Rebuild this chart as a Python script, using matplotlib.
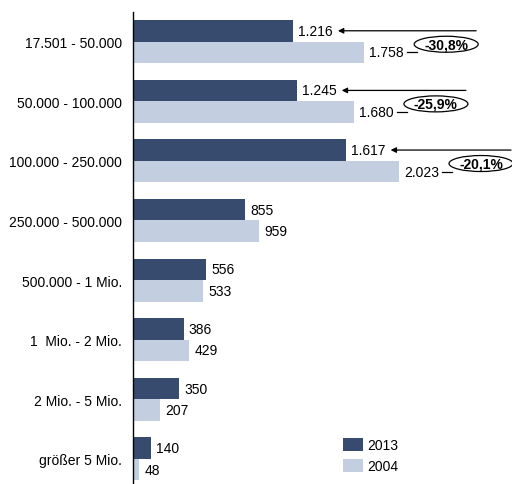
import matplotlib
matplotlib.use("Agg")
import matplotlib.pyplot as plt
from matplotlib.patches import Ellipse
from matplotlib.transforms import ScaledTranslation
import numpy as np

plt.rcParams['font.family'] = ['Liberation Sans', 'DejaVu Sans']

categories = ["17.501 - 50.000", "50.000 - 100.000", "100.000 - 250.000",
              "250.000 - 500.000", "500.000 - 1 Mio.", "1  Mio. - 2 Mio.",
              "2 Mio. - 5 Mio.", "größer 5 Mio."]
v2013 = [1216, 1245, 1617, 855, 556, 386, 350, 140]
v2004 = [1758, 1680, 2023, 959, 533, 429, 207, 48]
changes = ["-30,8%", "-25,9%", "-20,1%"]

def fmt(v):
    return f"{v:,}".replace(",", ".")

dark = "#364b6e"
light = "#c3cee1"

W, H, DPI = 512, 485, 100
fig = plt.figure(figsize=(W / DPI, H / DPI), dpi=DPI)
ax = fig.add_axes([133 / W, 0, 379 / W, (H - 13) / H])

y = np.arange(len(categories))
bh = 0.36
ax.barh(y - bh / 2, v2013, height=bh, color=dark, label="2013")
ax.barh(y + bh / 2, v2004, height=bh, color=light, label="2004")

ax.set_xlim(0, 379 / 0.1315)
ax.set_ylim(7.42, -0.495)
ax.set_yticks(y)
ax.set_yticklabels(categories, fontsize=10)
ax.tick_params(axis='y', length=0, pad=8)
ax.set_xticks([])
for s in ["top", "right", "bottom"]:
    ax.spines[s].set_visible(False)
ax.spines["left"].set_linewidth(1.0)

for i in range(len(categories)):
    ax.annotate(fmt(v2013[i]), (v2013[i], y[i] - bh / 2), xytext=(3.6, 0),
                textcoords="offset points", va="center", ha="left", fontsize=10)
    ax.annotate(fmt(v2004[i]), (v2004[i], y[i] + bh / 2), xytext=(3.6, 0),
                textcoords="offset points", va="center", ha="left", fontsize=10)

def at(xd, yd):
    return fig.dpi_scale_trans + ScaledTranslation(xd, yd, ax.transData)

for i, ch in enumerate(changes):
    base = at(v2004[i], y[i] + bh / 2)   # light bar end, in inches offsets
    ecx, ecy, ew, eh = 82 / DPI, 8 / DPI, 64 / DPI, 16 / DPI
    ax.add_patch(Ellipse((ecx, ecy), ew, eh, transform=base, fill=False,
                         edgecolor="black", lw=0.9, clip_on=False))
    ax.text(ecx, ecy, ch, transform=base, ha="center", va="center",
            fontsize=10, fontweight="bold", clip_on=False)
    ax.plot([43 / DPI, 53 / DPI], [0, 0], transform=base, color="black",
            lw=0.9, clip_on=False)
    tail_disp = base.transform((ecx + ew / 2 - 2 / DPI, 0))
    dark_end = ax.transData.transform((v2013[i], y[i] - bh / 2))
    tip_disp = (dark_end[0] + 45, dark_end[1])
    tail_disp = (tail_disp[0], dark_end[1])
    ax.annotate("", xy=tip_disp, xycoords="figure pixels",
                xytext=tail_disp, textcoords="figure pixels",
                arrowprops=dict(arrowstyle="-|>", lw=0.9, color="black",
                                mutation_scale=8, shrinkA=0, shrinkB=0))

fs_px = 10 * DPI / 72
ax.legend(loc="upper left", bbox_to_anchor=(343 / W, 1 - 439 / H),
          bbox_transform=fig.transFigure, frameon=False, fontsize=10,
          handlelength=20 / fs_px, handleheight=15 / fs_px,
          handletextpad=0.3, labelspacing=0.45, borderpad=0, borderaxespad=0)

fig.savefig("out.png", dpi=DPI)
